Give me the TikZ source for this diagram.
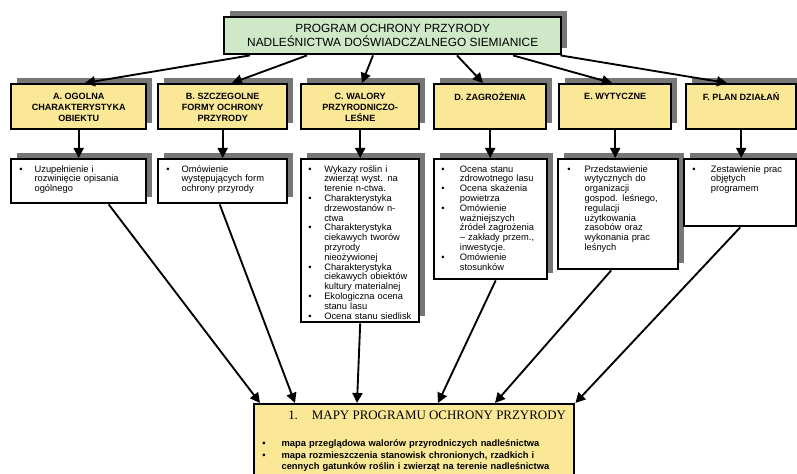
\documentclass[tikz,border=0pt]{standalone}
\usepackage{fontspec}
\setmainfont{Liberation Sans}
\newfontfamily\mapfont{Liberation Serif}
\usetikzlibrary{arrows.meta,shadows,calc}
\definecolor{titlegreen}{RGB}{206,232,200}
\definecolor{boxyellow}{RGB}{250,232,150}
\definecolor{shadowgray}{RGB}{118,118,118}
% bullet list used inside the boxes
\newenvironment{pts}[1][12pt]{\begin{list}{\textbullet}{%
  \setlength{\leftmargin}{#1}\setlength{\labelwidth}{#1}\setlength{\labelsep}{0pt}%
  \setlength{\itemsep}{0pt}\setlength{\parsep}{0pt}\setlength{\topsep}{0pt}%
  \setlength{\partopsep}{0pt}\renewcommand{\makelabel}[1]{##1\hfil}}}{\end{list}}
\begin{document}
\begin{tikzpicture}[x=0.75pt,y=-0.75pt,
  frame/.style={draw=black,line width=1.8pt,inner sep=0pt,anchor=north west},
  shade/.style={drop shadow={shadow xshift=4.5pt,shadow yshift=4.5pt,fill=shadowgray,opacity=1}},
  head/.style={frame,shade,fill=boxyellow,minimum height=33.75pt},
  note/.style={frame,shade,fill=white},
  headtxt/.style={anchor=north,inner sep=0pt,align=center,font=\bfseries\fontsize{6.8}{8.1}\selectfont},
  notetxt/.style={anchor=north west,inner sep=0pt,text width=#1,font=\fontsize{7}{7.35}\selectfont},
  link/.style={line width=1.4pt,-{Triangle[length=7.5pt,width=7.5pt]}}]
\useasboundingbox (0,0) rectangle (797,474);
%main title
\node[frame,shade,fill=titlegreen,minimum width=252.75pt,minimum height=27.75pt,align=center,
  font=\fontsize{8.9}{10.5}\selectfont] (title) at (223,16)
  {PROGRAM OCHRONY PRZYRODY\\NADLEŚNICTWA DOŚWIADCZALNEGO SIEMIANICE};
%chapter boxes
\node[head,minimum width=101.25pt] (A) at (10,83) {};
\node[head,minimum width=96.75pt] (B) at (157,83) {};
\node[head,minimum width=88.5pt] (C) at (300,83) {};
\node[head,minimum width=84pt] (D) at (433,83) {};
\node[head,minimum width=84pt] (E) at (558,83) {};
\node[head,minimum width=82.5pt] (F) at (685,83) {};
\node[headtxt] (Atxt) at ($(A.north)+(0,10)$) {A. OGOLNA\\CHARAKTERYSTYKA\\OBIEKTU};
\node[headtxt] (Btxt) at ($(B.north)+(0,10)$) {B. SZCZEGOLNE\\FORMY OCHRONY\\PRZYRODY};
\node[headtxt] (Ctxt) at ($(C.north)+(0,10)$) {C. WALORY\\PRZYRODNICZO-\\LEŚNE};
\node[headtxt] (Dtxt) at ($(D.north)+(0,9)$) {D. ZAGROŻENIA};
\node[headtxt] (Etxt) at ($(E.north)+(0,10)$) {E. WYTYCZNE};
\node[headtxt] (Ftxt) at ($(F.north)+(0,9)$) {F. PLAN DZIAŁAŃ};
%boxes with the contents
\node[note,minimum width=101.25pt,minimum height=33pt] (Anote) at (10,158) {};
\node[note,minimum width=96.75pt,minimum height=33pt] (Bnote) at (157,158) {};
\node[note,minimum width=88.5pt,minimum height=122.25pt] (Cnote) at (300,158) {};
\node[note,minimum width=84.75pt,minimum height=90pt] (Dnote) at (433,158) {};
\node[note,minimum width=90pt,minimum height=82.5pt] (Enote) at (557,158) {};
\node[note,minimum width=84pt,minimum height=50.25pt] (Fnote) at (683,158) {};
\node[notetxt=90pt] (Atext) at ($(Anote.north west)+(9,4)$)
  {\begin{pts}[11.5pt]\item Uzupełnienie i\\rozwinięcie opisania\\ogólnego\end{pts}};
\node[notetxt=88pt] (Btext) at ($(Bnote.north west)+(9,4)$)
  {\begin{pts}[11.5pt]\item Omówienie\\występujących form\\ochrony przyrody\end{pts}};
\node[notetxt=80pt] (Ctext) at ($(Cnote.north west)+(8,4)$)
  {\begin{pts}
  \item Wykazy roślin i\\zwierząt wyst. na\\terenie n-ctwa.
  \item Charakterystyka\\drzewostanów n-\\ctwa
  \item Charakterystyka\\ciekawych tworów\\przyrody\\nieożywionej
  \item Charakterystyka\\ciekawych obiektów\\kultury materialnej
  \item Ekologiczna ocena\\stanu lasu
  \item Ocena stanu siedlisk
  \end{pts}};
\node[notetxt=80pt] (Dtext) at ($(Dnote.north west)+(8,4)$)
  {\begin{pts}[14pt]
  \item Ocena stanu\\zdrowotnego lasu
  \item Ocena skażenia\\powietrza
  \item Omówienie\\ważniejszych\\źródeł zagrożenia\\– zakłady przem.,\\inwestycje.
  \item Omówienie\\stosunków
  \end{pts}};
\node[notetxt=84pt] (Etext) at ($(Enote.north west)+(10,4)$)
  {\begin{pts}[13pt]\item Przedstawienie\\wytycznych do\\organizacji\\gospod. leśnego,\\regulacji\\użytkowania\\zasobów oraz\\wykonania prac\\leśnych\end{pts}};
\node[notetxt=80pt] (Ftext) at ($(Fnote.north west)+(9,4)$)
  {\begin{pts}[14pt]\item Zestawienie prac\\objętych\\programem\end{pts}};
%maps box at the bottom
\node[frame,fill=boxyellow,minimum width=240pt,minimum height=75pt] (map) at (253,403) {};
\node[anchor=base west,inner sep=0pt,font=\mapfont\fontsize{9.7}{11}\selectfont] (maptitle)
  at (288,419) {1.\hspace{10.5pt}MAPY PROGRAMU OCHRONY PRZYRODY};
\node[anchor=north west,inner sep=0pt,text width=232pt,font=\bfseries\fontsize{7}{8.6}\selectfont]
  (maplist) at (262,435)
  {\begin{pts}[14.5pt]
  \item mapa przeglądowa walorów przyrodniczych nadleśnictwa
  \item mapa rozmieszczenia stanowisk chronionych, rzadkich i\\cennych gatunków roślin i zwierząt na terenie nadleśnictwa
  \end{pts}};
%connectors
\draw[link] ($(title.south west)+(27,0)$) -- ($(A.north west)+(75,0)$);
\draw[link] ($(title.south west)+(84,0)$) -- ($(B.north west)+(75,0)$);
\draw[link] ($(title.south west)+(150,0)$) -- ($(C.north west)+(62,0)$);
\draw[link] ($(title.south west)+(234,0)$) -- ($(D.north west)+(50,0)$);
\draw[link] ($(title.south west)+(290,0)$) -- ($(E.north west)+(54,0)$);
\draw[link] ($(title.south east)+(-2,0)$) -- ($(F.north west)+(42,0)$);
\draw[link] (A.south) -- (A.south |- Anote.north);
\draw[link] (B.south) -- (B.south |- Bnote.north);
\draw[link] (C.south) -- (C.south |- Cnote.north);
\draw[link] (D.south) -- (D.south |- Dnote.north);
\draw[link] (E.south) -- (E.south |- Enote.north);
\draw[link] (F.south) -- (F.south |- Fnote.north);
\draw[link] ($(Anote.south)+(30,0)$) -- ($(map.north west)+(7,0)$);
\draw[link] ($(Bnote.south)+(-3,0)$) -- ($(map.north west)+(42,0)$);
\draw[link] (Cnote.south) -- ($(map.north west)+(104,0)$);
\draw[link] ($(Dnote.south)+(5,0)$) -- ($(map.north west)+(185,0)$);
\draw[link] ($(Enote.south)+(-7,0)$) -- ($(map.north west)+(242,0)$);
\draw[link] (Fnote.south) -- (map.north east);
\end{tikzpicture}
\end{document}
